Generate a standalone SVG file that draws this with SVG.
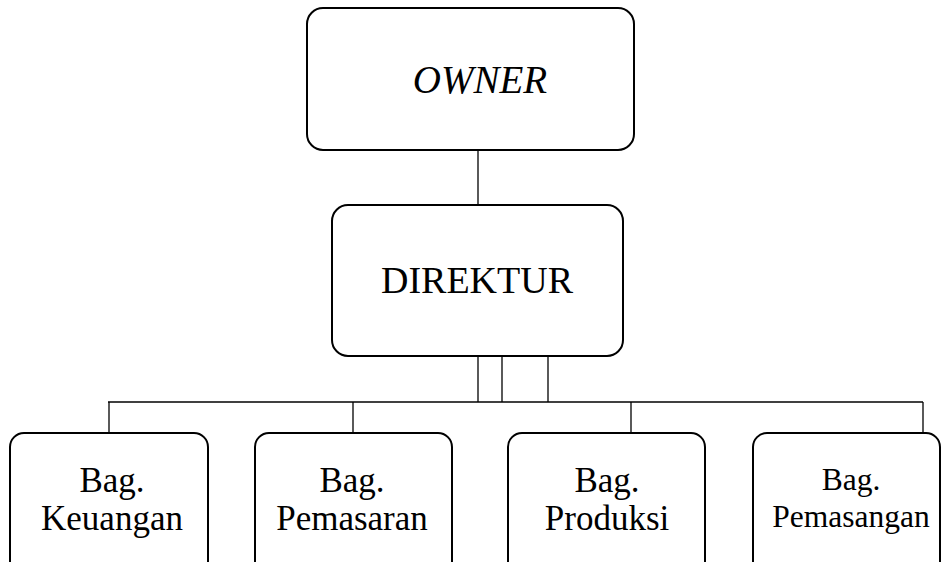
<svg xmlns="http://www.w3.org/2000/svg" width="941" height="562" viewBox="0 0 941 562">
<style>
.box{fill:#fff;stroke:#000;stroke-width:2}
.ln{stroke:#000;stroke-width:1.3;fill:none}
text{font-family:"Liberation Serif","Times New Roman",serif;fill:#000;text-anchor:middle}
</style>
<rect width="941" height="562" fill="#fff"/>
<g id="connectors">
<line class="ln" x1="478" y1="150" x2="478" y2="205"/>
<line class="ln" x1="478" y1="356" x2="478" y2="402"/>
<line class="ln" x1="502" y1="356" x2="502" y2="402"/>
<line class="ln" x1="548" y1="356" x2="548" y2="402"/>
<line class="ln" x1="108" y1="402" x2="923" y2="402"/>
<line class="ln" x1="109" y1="402" x2="109" y2="433"/>
<line class="ln" x1="353" y1="402" x2="353" y2="433"/>
<line class="ln" x1="631" y1="402" x2="631" y2="433"/>
<line class="ln" x1="923" y1="402" x2="923" y2="433"/>
</g>
<g id="owner">
<rect class="box" x="307" y="8" width="327" height="142" rx="16"/>
<text x="480" y="93" font-size="39" font-style="italic">OWNER</text>
</g>
<g id="direktur">
<rect class="box" x="332" y="205" width="291" height="151" rx="16"/>
<text x="477" y="293" font-size="38">DIREKTUR</text>
</g>
<g id="keuangan">
<rect class="box" x="10" y="433" width="198" height="150" rx="14"/>
<text x="112" y="492" font-size="35">Bag.</text>
<text x="112" y="530" font-size="35">Keuangan</text>
</g>
<g id="pemasaran">
<rect class="box" x="255" y="433" width="197" height="150" rx="14"/>
<text x="352" y="492" font-size="35">Bag.</text>
<text x="352" y="530" font-size="35">Pemasaran</text>
</g>
<g id="produksi">
<rect class="box" x="508" y="433" width="197" height="150" rx="14"/>
<text x="607" y="492" font-size="35">Bag.</text>
<text x="607" y="530" font-size="35">Produksi</text>
</g>
<g id="pemasangan">
<rect class="box" x="753" y="433" width="187" height="150" rx="14"/>
<text x="851" y="490" font-size="31.5">Bag.</text>
<text x="851" y="527" font-size="31.5">Pemasangan</text>
</g>
</svg>
